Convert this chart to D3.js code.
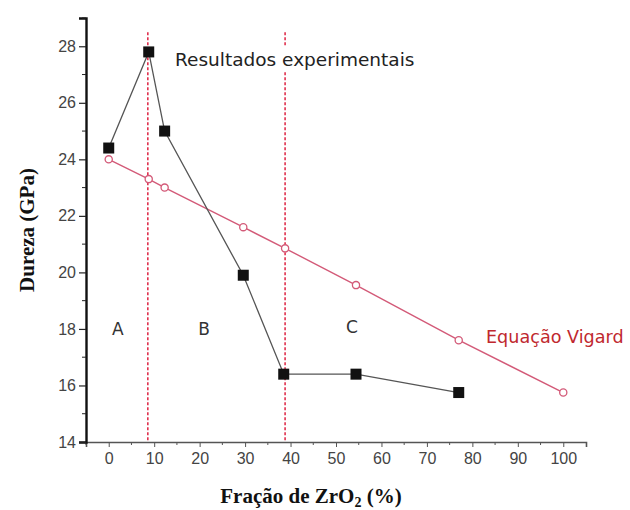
<!DOCTYPE html>
<html>
<head>
<meta charset="utf-8">
<script src="https://cdn.jsdelivr.net/npm/d3@7"></script>
<style>
  body { margin: 0; background: #fff; }
  svg { display: block; }
</style>
</head>
<body>
<svg id="chart" width="630" height="510"></svg>
<script>
// Data
var fraction = [0, 8.8, 12.3, 29.6, 38.5, 54.4, 77];
var hardnessExp = [24.4, 27.8, 25.0, 19.9, 16.4, 16.4, 15.75];
var fractionVigard = [0, 8.8, 12.3, 29.6, 38.8, 54.4, 77, 100];
var hardnessVigard = [24.0, 23.3, 23.0, 21.6, 20.85, 19.55, 17.6, 15.75];
var regionBounds = [8.6, 38.8];
var regionLabels = [{ name: "A", x: 2, y: 18 }, { name: "B", x: 21, y: 18 }, { name: "C", x: 53.5, y: 18.05 }];
var xTicks = [0, 10, 20, 30, 40, 50, 60, 70, 80, 90, 100];
var yTicks = [14, 16, 18, 20, 22, 24, 26, 28];

var style = {
    left: 86,
    right: 586,
    top: 18,
    bottom: 442,
    expColor: "#111",
    expLine: "#555",
    vigColor: "#d35a78",
    dashColor: "#e0304e",
    textColor: "#333",
    labelRed: "#c0282e"
};

var svg = d3.select("#chart");

var x = d3.scaleLinear().domain([-5, 105]).range([style.left, style.right]);
var y = d3.scaleLinear().domain([14, 29]).range([style.bottom, style.top]);

// dashed region separators
svg.selectAll("line.region")
    .data(regionBounds)
    .enter().append("line")
    .attr("class", "region")
    .attr("x1", function(d) { return x(d); })
    .attr("x2", function(d) { return x(d); })
    .attr("y1", y(28.5))
    .attr("y2", y(14))
    .attr("stroke", style.dashColor)
    .attr("stroke-width", 1.6)
    .attr("stroke-dasharray", "3,2");

// Vigard line
var vigData = fractionVigard.map(function(d, i) { return [d, hardnessVigard[i]]; });
var expData = fraction.map(function(d, i) { return [d, hardnessExp[i]]; });
var line = d3.line().x(function(d) { return x(d[0]); }).y(function(d) { return y(d[1]); });

svg.append("path")
    .datum(vigData)
    .attr("d", line)
    .attr("fill", "none")
    .attr("stroke", style.vigColor)
    .attr("stroke-width", 1.4);

svg.selectAll("circle.vig")
    .data(vigData)
    .enter().append("circle")
    .attr("class", "vig")
    .attr("cx", function(d) { return x(d[0]); })
    .attr("cy", function(d) { return y(d[1]); })
    .attr("r", 3.6)
    .attr("fill", "#fff")
    .attr("stroke", style.vigColor)
    .attr("stroke-width", 1.3);

// experimental line
svg.append("path")
    .datum(expData)
    .attr("d", line)
    .attr("fill", "none")
    .attr("stroke", style.expLine)
    .attr("stroke-width", 1.3);

svg.selectAll("rect.exp")
    .data(expData)
    .enter().append("rect")
    .attr("class", "exp")
    .attr("x", function(d) { return x(d[0]) - 5.5; })
    .attr("y", function(d) { return y(d[1]) - 5.5; })
    .attr("width", 11)
    .attr("height", 11)
    .attr("fill", style.expColor);

// annotations with white backing
function note(txt, px, py, color, size) {
    var g = svg.append("g");
    var bg = g.append("rect").attr("fill", "#fff");
    var t = g.append("text")
        .attr("x", px)
        .attr("y", py)
        .attr("font-family", "DejaVu Sans, sans-serif")
        .attr("font-size", size)
        .attr("fill", color)
        .text(txt);
    var b = t.node().getBBox();
    bg.attr("x", b.x - 8).attr("y", b.y - 3).attr("width", b.width + 16).attr("height", b.height + 4);
    return t;
}
note("Resultados experimentais", 175, 66, "#222", 18.5);
note("Equação Vigard", 486, 343, style.labelRed, 17.6);

svg.selectAll("text.region")
    .data(regionLabels)
    .enter().append("text")
    .attr("class", "region")
    .attr("x", function(d) { return x(d.x); })
    .attr("y", function(d) { return y(d.y); })
    .attr("dy", "0.35em")
    .attr("text-anchor", "middle")
    .attr("font-family", "DejaVu Sans, sans-serif")
    .attr("font-size", 17)
    .attr("fill", style.textColor)
    .text(function(d) { return d.name; });

// axes
var xAxis = d3.axisBottom(x).tickValues(xTicks).tickSize(5).tickPadding(6);
var gx = svg.append("g")
    .attr("transform", "translate(0," + style.bottom + ")")
    .call(xAxis);
gx.select(".domain").attr("stroke", "#555").attr("stroke-width", 1.6);
gx.selectAll(".tick line").attr("stroke", "#555");
gx.selectAll(".tick text")
    .attr("font-family", "Liberation Sans, Arial, sans-serif")
    .attr("font-size", 16)
    .attr("fill", "#444");

// minor x ticks
svg.selectAll("line.xminor")
    .data(xTicks.slice(0, -1).map(function(d) { return d + 5; }).concat([-5]))
    .enter().append("line")
    .attr("class", "xminor")
    .attr("x1", function(d) { return x(d); })
    .attr("x2", function(d) { return x(d); })
    .attr("y1", style.bottom)
    .attr("y2", style.bottom + 3)
    .attr("stroke", "#555");

var yAxis = d3.axisLeft(y).tickValues(yTicks).tickSize(7).tickPadding(3);
var gy = svg.append("g")
    .attr("transform", "translate(" + style.left + ",0)")
    .call(yAxis);
gy.select(".domain").attr("stroke", "#111").attr("stroke-width", 2.4);
gy.selectAll(".tick line").attr("stroke", "#222").attr("stroke-width", 1.2);
gy.selectAll(".tick text")
    .attr("font-family", "Liberation Sans, Arial, sans-serif")
    .attr("font-size", 16)
    .attr("fill", "#444");

// minor y ticks
svg.selectAll("line.yminor")
    .data(yTicks.map(function(d) { return d + 1; }))
    .enter().append("line")
    .attr("class", "yminor")
    .attr("x1", style.left - 4)
    .attr("x2", style.left)
    .attr("y1", function(d) { return y(d); })
    .attr("y2", function(d) { return y(d); })
    .attr("stroke", "#222");

// axis titles
var xTitle = svg.append("text")
    .attr("x", 311)
    .attr("y", 503)
    .attr("text-anchor", "middle")
    .attr("font-family", "Liberation Serif, Times New Roman, serif")
    .attr("font-weight", "bold")
    .attr("font-size", 21)
    .attr("fill", "#111");
xTitle.append("tspan").text("Fração de ZrO");
xTitle.append("tspan").attr("dy", 4).attr("font-size", 14).text("2");
xTitle.append("tspan").attr("dy", -4).text(" (%)");

svg.append("text")
    .attr("transform", "translate(34,230) rotate(-90)")
    .attr("text-anchor", "middle")
    .attr("font-family", "Liberation Serif, Times New Roman, serif")
    .attr("font-weight", "bold")
    .attr("font-size", 21)
    .attr("fill", "#111")
    .text("Dureza (GPa)");
</script>
</body>
</html>
